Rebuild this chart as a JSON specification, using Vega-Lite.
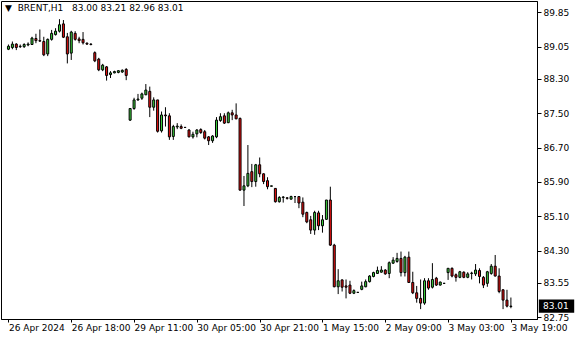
{
  "$schema": "https://vega.github.io/schema/vega-lite/v6.json",
  "width": 536,
  "height": 318,
  "autosize": {"type": "none"},
  "padding": {"left": 1, "top": 1, "right": 43, "bottom": 21},
  "background": "white",
  "config": {
    "view": {"stroke": "black", "strokeWidth": 1},
    "font": "DejaVu Sans"
  },
  "title": {
    "text": "▼\u00a0 BRENT,H1\u00a0\u00a0 83.00 83.21 82.96 83.01",
    "anchor": "start",
    "orient": "top",
    "offset": -12,
    "dx": 4,
    "font": "DejaVu Sans",
    "fontSize": 9,
    "fontWeight": "normal",
    "color": "black"
  },
  "data": {
    "values": [
      {"i":0,"o":88.99,"h":89.10,"l":88.97,"c":89.06},
      {"i":1,"o":89.03,"h":89.17,"l":88.99,"c":89.11},
      {"i":2,"o":89.11,"h":89.13,"l":88.97,"c":89.03},
      {"i":3,"o":89.05,"h":89.10,"l":89.02,"c":89.06},
      {"i":4,"o":89.05,"h":89.13,"l":89.02,"c":89.10},
      {"i":5,"o":89.09,"h":89.15,"l":89.06,"c":89.11},
      {"i":6,"o":89.10,"h":89.28,"l":89.09,"c":89.25},
      {"i":7,"o":89.24,"h":89.35,"l":89.13,"c":89.19},
      {"i":8,"o":89.19,"h":89.45,"l":89.16,"c":89.18},
      {"i":9,"o":89.17,"h":89.28,"l":88.83,"c":88.86},
      {"i":10,"o":88.88,"h":89.24,"l":88.83,"c":89.22},
      {"i":11,"o":89.22,"h":89.44,"l":89.19,"c":89.36},
      {"i":12,"o":89.33,"h":89.48,"l":89.31,"c":89.41},
      {"i":13,"o":89.41,"h":89.69,"l":89.38,"c":89.56},
      {"i":14,"o":89.58,"h":89.67,"l":89.25,"c":89.27},
      {"i":15,"o":89.28,"h":89.37,"l":88.66,"c":88.88},
      {"i":16,"o":88.90,"h":89.42,"l":88.74,"c":89.39},
      {"i":17,"o":89.36,"h":89.41,"l":89.19,"c":89.22},
      {"i":18,"o":89.23,"h":89.28,"l":89.13,"c":89.19},
      {"i":19,"o":89.22,"h":89.39,"l":89.10,"c":89.14},
      {"i":20,"o":89.13,"h":89.15,"l":89.09,"c":89.11},
      {"i":21,"o":89.11,"h":89.13,"l":89.08,"c":89.10},
      {"i":22,"o":88.91,"h":88.94,"l":88.69,"c":88.72},
      {"i":23,"o":88.76,"h":88.79,"l":88.48,"c":88.51},
      {"i":24,"o":88.51,"h":88.65,"l":88.48,"c":88.62},
      {"i":25,"o":88.58,"h":88.60,"l":88.26,"c":88.38},
      {"i":26,"o":88.40,"h":88.48,"l":88.32,"c":88.44},
      {"i":27,"o":88.44,"h":88.49,"l":88.43,"c":88.47},
      {"i":28,"o":88.45,"h":88.50,"l":88.43,"c":88.49},
      {"i":29,"o":88.46,"h":88.52,"l":88.44,"c":88.50},
      {"i":30,"o":88.52,"h":88.55,"l":88.27,"c":88.38},
      {"i":31,"o":87.34,"h":87.61,"l":87.32,"c":87.61},
      {"i":32,"o":87.61,"h":87.86,"l":87.58,"c":87.81},
      {"i":33,"o":87.81,"h":87.95,"l":87.79,"c":87.83},
      {"i":34,"o":87.85,"h":87.98,"l":87.81,"c":87.95},
      {"i":35,"o":87.93,"h":88.18,"l":87.92,"c":88.04},
      {"i":36,"o":88.01,"h":88.12,"l":87.41,"c":87.64},
      {"i":37,"o":87.64,"h":87.87,"l":87.56,"c":87.81},
      {"i":38,"o":87.81,"h":87.81,"l":87.05,"c":87.08},
      {"i":39,"o":87.09,"h":87.54,"l":87.05,"c":87.46},
      {"i":40,"o":87.46,"h":87.64,"l":87.19,"c":87.44},
      {"i":41,"o":87.44,"h":87.50,"l":86.88,"c":86.95},
      {"i":42,"o":86.96,"h":87.23,"l":86.88,"c":87.19},
      {"i":43,"o":87.18,"h":87.27,"l":87.13,"c":87.20},
      {"i":44,"o":87.19,"h":87.24,"l":87.13,"c":87.15},
      {"i":45,"o":87.17,"h":87.18,"l":87.16,"c":87.17},
      {"i":46,"o":87.11,"h":87.13,"l":86.94,"c":86.95},
      {"i":47,"o":86.95,"h":87.07,"l":86.91,"c":87.01},
      {"i":48,"o":87.02,"h":87.13,"l":86.94,"c":87.11},
      {"i":49,"o":87.12,"h":87.15,"l":87.02,"c":87.05},
      {"i":50,"o":87.07,"h":87.11,"l":86.89,"c":86.92},
      {"i":51,"o":86.95,"h":86.97,"l":86.76,"c":86.86},
      {"i":52,"o":86.86,"h":86.99,"l":86.81,"c":86.97},
      {"i":53,"o":86.95,"h":87.41,"l":86.92,"c":87.34},
      {"i":54,"o":87.33,"h":87.50,"l":87.30,"c":87.42},
      {"i":55,"o":87.44,"h":87.50,"l":87.25,"c":87.27},
      {"i":56,"o":87.28,"h":87.54,"l":87.27,"c":87.51},
      {"i":57,"o":87.51,"h":87.58,"l":87.34,"c":87.46},
      {"i":58,"o":87.46,"h":87.73,"l":87.36,"c":87.37},
      {"i":59,"o":87.38,"h":87.40,"l":85.70,"c":85.71},
      {"i":60,"o":85.71,"h":86.04,"l":85.34,"c":85.81},
      {"i":61,"o":85.81,"h":86.76,"l":85.78,"c":86.10},
      {"i":62,"o":86.14,"h":86.32,"l":85.78,"c":85.91},
      {"i":63,"o":85.91,"h":86.32,"l":85.79,"c":86.30},
      {"i":64,"o":86.30,"h":86.47,"l":86.01,"c":86.09},
      {"i":65,"o":86.09,"h":86.10,"l":85.85,"c":85.91},
      {"i":66,"o":85.93,"h":86.01,"l":85.73,"c":85.79},
      {"i":67,"o":85.80,"h":85.81,"l":85.80,"c":85.81},
      {"i":68,"o":85.75,"h":85.75,"l":85.42,"c":85.44},
      {"i":69,"o":85.44,"h":85.57,"l":85.42,"c":85.54},
      {"i":70,"o":85.54,"h":85.57,"l":85.42,"c":85.55},
      {"i":71,"o":85.53,"h":85.55,"l":85.49,"c":85.52},
      {"i":72,"o":85.50,"h":85.58,"l":85.49,"c":85.56},
      {"i":73,"o":85.56,"h":85.57,"l":85.41,"c":85.56},
      {"i":74,"o":85.56,"h":85.57,"l":85.29,"c":85.41},
      {"i":75,"o":85.43,"h":85.54,"l":85.08,"c":85.15},
      {"i":76,"o":85.19,"h":85.21,"l":84.94,"c":84.97},
      {"i":77,"o":85.02,"h":85.11,"l":84.69,"c":84.78},
      {"i":78,"o":84.78,"h":85.23,"l":84.67,"c":85.19},
      {"i":79,"o":85.18,"h":85.23,"l":84.78,"c":84.88},
      {"i":80,"o":84.88,"h":85.13,"l":84.72,"c":85.02},
      {"i":81,"o":85.03,"h":85.48,"l":85.02,"c":85.48},
      {"i":82,"o":85.48,"h":85.79,"l":84.41,"c":84.43},
      {"i":83,"o":84.43,"h":84.46,"l":83.45,"c":83.46},
      {"i":84,"o":83.46,"h":83.87,"l":83.29,"c":83.60},
      {"i":85,"o":83.62,"h":83.63,"l":83.35,"c":83.45},
      {"i":86,"o":83.48,"h":83.63,"l":83.19,"c":83.45},
      {"i":87,"o":83.50,"h":83.60,"l":83.29,"c":83.31},
      {"i":88,"o":83.31,"h":83.40,"l":83.29,"c":83.37},
      {"i":89,"o":83.33,"h":83.34,"l":83.32,"c":83.33},
      {"i":90,"o":83.40,"h":83.58,"l":83.38,"c":83.48},
      {"i":91,"o":83.46,"h":83.63,"l":83.45,"c":83.58},
      {"i":92,"o":83.58,"h":83.73,"l":83.56,"c":83.71},
      {"i":93,"o":83.70,"h":83.81,"l":83.68,"c":83.79},
      {"i":94,"o":83.77,"h":83.93,"l":83.76,"c":83.84},
      {"i":95,"o":83.80,"h":83.94,"l":83.79,"c":83.85},
      {"i":96,"o":83.85,"h":83.87,"l":83.74,"c":83.76},
      {"i":97,"o":83.77,"h":84.05,"l":83.66,"c":84.02},
      {"i":98,"o":84.01,"h":84.15,"l":83.99,"c":84.08},
      {"i":99,"o":84.05,"h":84.25,"l":84.02,"c":84.12},
      {"i":100,"o":84.12,"h":84.28,"l":83.70,"c":83.79},
      {"i":101,"o":83.79,"h":84.18,"l":83.70,"c":84.15},
      {"i":102,"o":84.15,"h":84.28,"l":83.56,"c":83.56},
      {"i":103,"o":83.56,"h":83.81,"l":83.29,"c":83.32},
      {"i":104,"o":83.32,"h":83.48,"l":83.09,"c":83.19},
      {"i":105,"o":83.19,"h":83.63,"l":82.94,"c":83.08},
      {"i":106,"o":83.08,"h":83.66,"l":83.04,"c":83.60},
      {"i":107,"o":83.60,"h":83.66,"l":83.39,"c":83.43},
      {"i":108,"o":83.45,"h":84.01,"l":83.42,"c":83.63},
      {"i":109,"o":83.66,"h":83.69,"l":83.48,"c":83.50},
      {"i":110,"o":83.50,"h":83.58,"l":83.49,"c":83.57},
      {"i":111,"o":83.54,"h":83.55,"l":83.53,"c":83.54},
      {"i":112,"o":83.79,"h":83.89,"l":83.62,"c":83.89},
      {"i":113,"o":83.89,"h":83.91,"l":83.68,"c":83.71},
      {"i":114,"o":83.74,"h":83.77,"l":83.58,"c":83.68},
      {"i":115,"o":83.68,"h":83.83,"l":83.66,"c":83.81},
      {"i":116,"o":83.80,"h":83.82,"l":83.66,"c":83.68},
      {"i":117,"o":83.68,"h":83.80,"l":83.66,"c":83.76},
      {"i":118,"o":83.77,"h":83.81,"l":83.63,"c":83.78},
      {"i":119,"o":83.76,"h":83.99,"l":83.71,"c":83.85},
      {"i":120,"o":83.84,"h":83.89,"l":83.54,"c":83.70},
      {"i":121,"o":83.68,"h":83.71,"l":83.43,"c":83.50},
      {"i":122,"o":83.54,"h":83.83,"l":83.46,"c":83.81},
      {"i":123,"o":83.77,"h":83.99,"l":83.74,"c":83.94},
      {"i":124,"o":83.94,"h":84.20,"l":83.70,"c":83.71},
      {"i":125,"o":83.71,"h":83.89,"l":83.31,"c":83.35},
      {"i":126,"o":83.39,"h":83.40,"l":82.94,"c":83.15},
      {"i":127,"o":83.15,"h":83.39,"l":82.98,"c":83.01},
      {"i":128,"o":83.00,"h":83.21,"l":82.96,"c":83.01}
    ]
  },
  "layer": [
    {
      "mark": {"type": "rule", "color": "black", "strokeWidth": 1},
      "encoding": {
        "x": {
          "field": "i", "type": "quantitative",
          "scale": {"domain": [-0.625, 133.375], "nice": false, "zero": false},
          "axis": {
            "values": [0, 16, 32, 48, 64, 80, 96, 112, 128],
            "tickCount": 30,
            "labelExpr": "['26 Apr 2024','26 Apr 18:00','29 Apr 11:00','30 Apr 05:00','30 Apr 21:00','1 May 15:00','2 May 09:00','3 May 03:00','3 May 19:00'][round(datum.value/16)]",
            "labelAlign": "left",
            "labelFlush": false,
            "labelOverlap": false,
            "labelFont": "DejaVu Sans",
            "labelFontSize": 9,
            "labelColor": "black",
            "labelPadding": 1,
            "tickSize": 3,
            "tickColor": "black",
            "domainColor": "black",
            "grid": false,
            "title": null
          }
        },
        "y": {
          "field": "l", "type": "quantitative",
          "scale": {"domain": [82.71, 90.113], "nice": false, "zero": false},
          "axis": {
            "orient": "right",
            "values": [82.75, 83.55, 84.30, 85.10, 85.90, 86.70, 87.50, 88.30, 89.05, 89.85],
            "tickCount": 30,
            "format": ".2f",
            "labelOverlap": false,
            "labelFont": "DejaVu Sans",
            "labelFontSize": 9,
            "labelColor": "black",
            "labelPadding": 2,
            "tickSize": 4,
            "tickColor": "black",
            "domainColor": "black",
            "grid": false,
            "title": null
          }
        },
        "y2": {"field": "h"}
      }
    },
    {
      "mark": {"type": "bar", "width": 2, "stroke": "black", "strokeWidth": 1},
      "encoding": {
        "x": {"field": "i", "type": "quantitative"},
        "y": {"field": "o", "type": "quantitative"},
        "y2": {"field": "c"},
        "fill": {
          "condition": {"test": "datum.c >= datum.o", "value": "#3cd03c"},
          "value": "#ee1010"
        }
      }
    },
    {
      "data": {"values": [{"p": 83.01}]},
      "mark": {"type": "point", "shape": "M0.15,-0.55H3.1V0.55H0.15Z", "size": 576, "filled": true, "fill": "black", "opacity": 1, "strokeWidth": 0},
      "encoding": {
        "x": {"value": "width"},
        "y": {"field": "p", "type": "quantitative"}
      }
    },
    {
      "data": {"values": [{"p": 83.01}]},
      "mark": {"type": "text", "align": "left", "baseline": "middle", "dx": 6, "color": "white", "font": "DejaVu Sans", "fontSize": 9},
      "encoding": {
        "x": {"value": "width"},
        "y": {"field": "p", "type": "quantitative"},
        "text": {"field": "p", "type": "quantitative", "format": ".2f"}
      }
    }
  ]
}
